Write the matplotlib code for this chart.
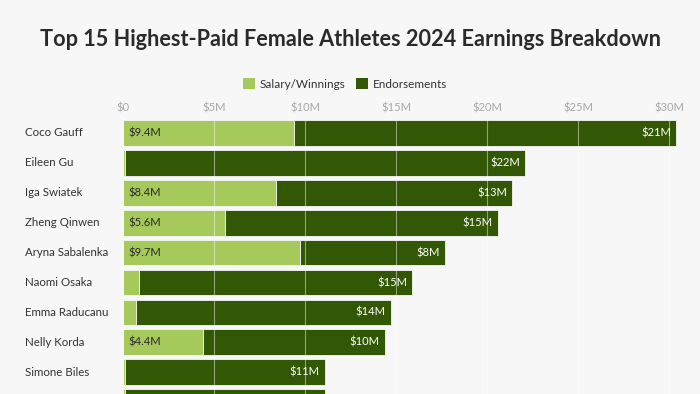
"""Top 15 highest-paid female athletes 2024 - stacked earnings bars."""
import matplotlib.pyplot as plt
from matplotlib.patches import Patch
from matplotlib.transforms import blended_transform_factory
from matplotlib.ticker import FuncFormatter

athletes = ['Coco Gauff', 'Eileen Gu', 'Iga Swiatek', 'Zheng Qinwen', 'Aryna Sabalenka',
            'Naomi Osaka', 'Emma Raducanu', 'Nelly Korda', 'Simone Biles', 'Caitlin Clark']
salary = [9.4, 0.1, 8.4, 5.6, 9.7, 0.9, 0.7, 4.4, 0.1, 0.1]
endorsements = [21, 22, 13, 15, 8, 15, 14, 10, 11, 11]
x_ticks = [0, 5, 10, 15, 20, 25, 30]

LIGHT = '#a6c95c'
DARK = '#325806'
BG = '#f7f7f7'

plt.rcParams['font.family'] = ['Lato', 'DejaVu Sans']

W, H = 700, 394
fig = plt.figure(figsize=(7, 3.94), dpi=100, facecolor=BG)

# axes placed in pixel terms: $0 at x=123, 18.2 px per $1M, first row centred at y=133
x0, px_per_m = 123, 18.2
xmax = 31.0
row_h = 29.9
top_px = 133 - 0.5 * row_h
n = len(athletes)
bottom_px = 133 + (n - 0.5) * row_h
ax = fig.add_axes([x0 / W, 1 - bottom_px / H, xmax * px_per_m / W, (bottom_px - top_px) / H])
ax.set_facecolor(BG)

y = list(range(n))
ax.barh(y, salary, height=0.86, color=LIGHT, edgecolor=BG, linewidth=0.6, zorder=2)
ax.barh(y, endorsements, left=salary, height=0.86, color=DARK, edgecolor=BG, linewidth=0.6, zorder=2)

trans = blended_transform_factory(fig.transFigure, ax.transData)
for i in range(n):
    # the chart is cropped at the bottom: rows whose centre falls off the image get no labels
    if 133 + i * row_h > H:
        continue
    if salary[i] >= 2:
        ax.text(0.3, i, f'${salary[i]:.1f}M', va='center', ha='left', fontsize=8,
                color='#2a2a2a', zorder=4)
    ax.text(salary[i] + endorsements[i] - 0.3, i, f'${endorsements[i]:.0f}M', va='center',
            ha='right', fontsize=8, color='white', zorder=4)
    ax.text(25 / W, i, athletes[i], transform=trans, va='center', ha='left', fontsize=8.3,
            color='#333333')

ax.set_xlim(0, xmax)
ax.set_ylim(n - 0.5, -0.5)
ax.set_xticks(x_ticks)
ax.xaxis.set_major_formatter(FuncFormatter(lambda v, p: '$0' if v == 0 else f'${v:.0f}M'))
ax.xaxis.tick_top()
ax.tick_params(axis='x', length=0, pad=3.5, labelsize=8, labelcolor='#a8a8a8')
ax.set_yticks([])
for s in ax.spines.values():
    s.set_visible(False)
ax.grid(axis='x', color='white', alpha=0.45, linewidth=0.8, zorder=3)
ax.set_axisbelow(False)

fig.text(0.5, 1 - 40 / H, 'Top 15 Highest-Paid Female Athletes 2024 Earnings Breakdown',
         ha='center', va='center', fontsize=15.6, fontweight='bold', color='#2a2a2a')

handles = [Patch(facecolor=LIGHT, label='Salary/Winnings'), Patch(facecolor=DARK, label='Endorsements')]
fig.legend(handles=handles, loc='center', bbox_to_anchor=(345 / W, 1 - 84 / H), ncol=2,
           frameon=False, fontsize=8.5, handlelength=1.0, handleheight=1.0,
           handletextpad=0.4, columnspacing=0.9, labelcolor='#333333')

plt.savefig('out.png', dpi=100, facecolor=BG)
